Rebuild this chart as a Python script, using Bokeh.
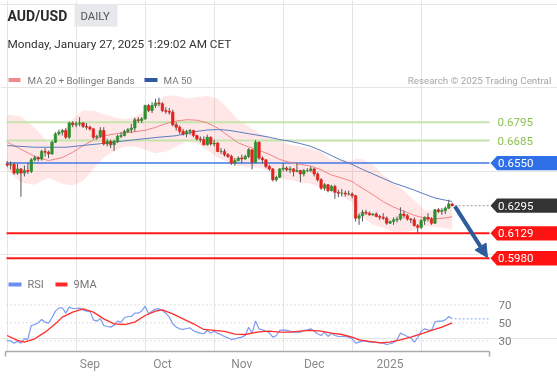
import pandas as pd
from bokeh.plotting import figure
from bokeh.models import Range1d, LinearAxis, FixedTicker, Arrow, NormalHead, ColumnDataSource
from bokeh.core.properties import value
from bokeh.embed import file_html
from bokeh.resources import INLINE

# ---------------- data ----------------
dates = pd.bdate_range("2024-07-30", "2025-01-27")   # 130 daily candles

opens = [
    0.6545, 0.6538, 0.6542, 0.6490, 0.6515, 0.6490, 0.6505, 0.6500, 0.6570, 0.6582,
    0.6575, 0.6620, 0.6615, 0.6605, 0.6675, 0.6725, 0.6735, 0.6745, 0.6705, 0.6790,
    0.6780, 0.6785, 0.6790, 0.6770, 0.6765, 0.6755, 0.6705, 0.6710, 0.6745, 0.6665,
    0.6680, 0.6660, 0.6680, 0.6710, 0.6715, 0.6740, 0.6750, 0.6760, 0.6810, 0.6805,
    0.6815, 0.6895, 0.6865, 0.6895, 0.6910, 0.6905, 0.6865, 0.6860, 0.6855, 0.6780,
    0.6765, 0.6740, 0.6725, 0.6740, 0.6745, 0.6715, 0.6695, 0.6690, 0.6660, 0.6705,
    0.6665, 0.6670, 0.6620, 0.6620, 0.6600, 0.6590, 0.6550, 0.6565, 0.6580, 0.6575,
    0.6590, 0.6630, 0.6555, 0.6675, 0.6580, 0.6570, 0.6530, 0.6515, 0.6450, 0.6465,
    0.6515, 0.6520, 0.6510, 0.6515, 0.6500, 0.6505, 0.6485, 0.6505, 0.6505, 0.6515,
    0.6485, 0.6450, 0.6400, 0.6420, 0.6385, 0.6410, 0.6375, 0.6370, 0.6370, 0.6365,
    0.6365, 0.6355, 0.6220, 0.6235, 0.6255, 0.6250, 0.6240, 0.6245, 0.6230, 0.6225,
    0.6220, 0.6190, 0.6200, 0.6210, 0.6215, 0.6245, 0.6235, 0.6215, 0.6210, 0.6175,
    0.6165, 0.6205, 0.6225, 0.6215, 0.6190, 0.6270, 0.6260, 0.6265, 0.6280, 0.6305,
]
closes = [
    0.6538, 0.6542, 0.6490, 0.6515, 0.6490, 0.6505, 0.6500, 0.6570, 0.6582, 0.6575,
    0.6620, 0.6615, 0.6605, 0.6675, 0.6725, 0.6735, 0.6745, 0.6705, 0.6790, 0.6780,
    0.6785, 0.6790, 0.6770, 0.6765, 0.6755, 0.6705, 0.6710, 0.6745, 0.6665, 0.6680,
    0.6660, 0.6680, 0.6710, 0.6715, 0.6740, 0.6750, 0.6760, 0.6810, 0.6805, 0.6815,
    0.6895, 0.6865, 0.6895, 0.6910, 0.6905, 0.6865, 0.6860, 0.6855, 0.6780, 0.6765,
    0.6740, 0.6725, 0.6740, 0.6745, 0.6715, 0.6695, 0.6690, 0.6660, 0.6705, 0.6665,
    0.6670, 0.6620, 0.6620, 0.6600, 0.6590, 0.6550, 0.6565, 0.6580, 0.6575, 0.6590,
    0.6630, 0.6555, 0.6675, 0.6580, 0.6570, 0.6530, 0.6515, 0.6450, 0.6465, 0.6515,
    0.6520, 0.6510, 0.6515, 0.6500, 0.6505, 0.6485, 0.6505, 0.6505, 0.6515, 0.6485,
    0.6450, 0.6400, 0.6420, 0.6385, 0.6410, 0.6375, 0.6370, 0.6370, 0.6365, 0.6365,
    0.6355, 0.6220, 0.6235, 0.6255, 0.6250, 0.6240, 0.6245, 0.6230, 0.6225, 0.6220,
    0.6190, 0.6200, 0.6210, 0.6215, 0.6245, 0.6235, 0.6215, 0.6210, 0.6175, 0.6165,
    0.6205, 0.6225, 0.6215, 0.6190, 0.6270, 0.6260, 0.6265, 0.6280, 0.6305, 0.6295,
]
highs = [
    0.6563, 0.6560, 0.6555, 0.6545, 0.6520, 0.6535, 0.6550, 0.6580, 0.6595, 0.6590,
    0.6630, 0.6640, 0.6625, 0.6685, 0.6735, 0.6750, 0.6755, 0.6760, 0.6798, 0.6800,
    0.6800, 0.6825, 0.6795, 0.6790, 0.6775, 0.6760, 0.6720, 0.6765, 0.6765, 0.6695,
    0.6690, 0.6690, 0.6720, 0.6735, 0.6750, 0.6760, 0.6785, 0.6822, 0.6825, 0.6825,
    0.6900, 0.6905, 0.6915, 0.6935, 0.6942, 0.6915, 0.6885, 0.6880, 0.6870, 0.6795,
    0.6775, 0.6755, 0.6750, 0.6755, 0.6750, 0.6720, 0.6710, 0.6710, 0.6720, 0.6710,
    0.6690, 0.6675, 0.6640, 0.6635, 0.6610, 0.6600, 0.6580, 0.6590, 0.6600, 0.6600,
    0.6640, 0.6630, 0.6688, 0.6680, 0.6590, 0.6570, 0.6540, 0.6520, 0.6475, 0.6520,
    0.6550, 0.6530, 0.6530, 0.6520, 0.6550, 0.6510, 0.6515, 0.6520, 0.6530, 0.6520,
    0.6495, 0.6460, 0.6430, 0.6425, 0.6420, 0.6420, 0.6390, 0.6395, 0.6385, 0.6385,
    0.6375, 0.6360, 0.6250, 0.6270, 0.6270, 0.6260, 0.6250, 0.6255, 0.6240, 0.6250,
    0.6230, 0.6205, 0.6225, 0.6230, 0.6285, 0.6265, 0.6245, 0.6220, 0.6225, 0.6185,
    0.6215, 0.6230, 0.6250, 0.6225, 0.6275, 0.6280, 0.6280, 0.6290, 0.6330, 0.6312,
]
lows = [
    0.6526, 0.6512, 0.6480, 0.6480, 0.6348, 0.6470, 0.6485, 0.6490, 0.6560, 0.6560,
    0.6565, 0.6590, 0.6580, 0.6600, 0.6670, 0.6715, 0.6715, 0.6695, 0.6695, 0.6765,
    0.6765, 0.6770, 0.6760, 0.6750, 0.6745, 0.6695, 0.6690, 0.6700, 0.6655, 0.6650,
    0.6640, 0.6622, 0.6670, 0.6700, 0.6710, 0.6730, 0.6730, 0.6740, 0.6790, 0.6790,
    0.6810, 0.6855, 0.6850, 0.6880, 0.6890, 0.6855, 0.6845, 0.6840, 0.6770, 0.6745,
    0.6725, 0.6715, 0.6705, 0.6720, 0.6705, 0.6685, 0.6675, 0.6655, 0.6655, 0.6655,
    0.6650, 0.6615, 0.6605, 0.6590, 0.6580, 0.6540, 0.6535, 0.6560, 0.6550, 0.6570,
    0.6580, 0.6512, 0.6550, 0.6570, 0.6550, 0.6520, 0.6505, 0.6440, 0.6440, 0.6460,
    0.6500, 0.6500, 0.6490, 0.6470, 0.6495, 0.6435, 0.6470, 0.6495, 0.6495, 0.6470,
    0.6440, 0.6390, 0.6385, 0.6375, 0.6380, 0.6336, 0.6345, 0.6350, 0.6350, 0.6355,
    0.6340, 0.6200, 0.6180, 0.6200, 0.6240, 0.6235, 0.6235, 0.6225, 0.6210, 0.6210,
    0.6180, 0.6185, 0.6180, 0.6195, 0.6205, 0.6220, 0.6205, 0.6190, 0.6170, 0.6130,
    0.6155, 0.6180, 0.6200, 0.6180, 0.6185, 0.6250, 0.6240, 0.6245, 0.6275, 0.6290,
]

# MA 20 + Bollinger Bands, sampled along the candles
band_idx = [0, 4, 8, 12, 16, 19, 22, 25, 28, 31, 34, 37, 40, 43, 46, 49, 52, 55, 58, 61, 64, 67,
            70, 73, 76, 79, 82, 85, 88, 91, 94, 97, 100, 101, 103, 106, 109, 112, 115, 118, 121,
            124, 127, 129]
ma20 = [0.6676, 0.6633, 0.6590, 0.6565, 0.6583, 0.6615, 0.6654, 0.6690, 0.6713, 0.6724, 0.6732,
        0.6738, 0.6746, 0.6764, 0.6787, 0.6802, 0.6810, 0.6807, 0.6791, 0.6760, 0.6715, 0.6671,
        0.6647, 0.6627, 0.6602, 0.6572, 0.6554, 0.6542, 0.6532, 0.6510, 0.6479, 0.6460, 0.6440,
        0.6425, 0.6399, 0.6361, 0.6319, 0.6286, 0.6262, 0.6237, 0.6220, 0.6216, 0.6221, 0.6229]
bb_upper = [0.6839, 0.6831, 0.6761, 0.6671, 0.6741, 0.6813, 0.6865, 0.6865, 0.6843, 0.6824, 0.6813,
            0.6826, 0.6861, 0.6918, 0.6955, 0.6954, 0.6939, 0.6944, 0.6953, 0.6937, 0.6875, 0.6808,
            0.6768, 0.6731, 0.6704, 0.6686, 0.6658, 0.6649, 0.6638, 0.6619, 0.6567, 0.6571, 0.6562,
            0.6576, 0.6573, 0.6542, 0.6477, 0.6435, 0.6385, 0.6328, 0.6267, 0.6265, 0.6281, 0.6306]
bb_lower = [0.6513, 0.6434, 0.6420, 0.6460, 0.6425, 0.6417, 0.6443, 0.6514, 0.6583, 0.6623, 0.6650,
            0.6650, 0.6632, 0.6609, 0.6618, 0.6650, 0.6680, 0.6671, 0.6629, 0.6584, 0.6555, 0.6534,
            0.6525, 0.6522, 0.6501, 0.6458, 0.6450, 0.6434, 0.6426, 0.6401, 0.6392, 0.6350, 0.6317,
            0.6274, 0.6225, 0.6180, 0.6162, 0.6137, 0.6139, 0.6146, 0.6172, 0.6167, 0.6160, 0.6151]

ma50_idx = [0, 8, 17, 27, 37, 44, 49, 52, 55, 58, 61, 64, 67, 70, 73, 76, 79, 82, 85, 88, 91, 94,
            97, 100, 103, 106, 109, 112, 115, 118, 121, 124, 127, 129]
ma50 = [0.6655, 0.6645, 0.6645, 0.6666, 0.6690, 0.6705, 0.6714, 0.6727, 0.6740, 0.6748, 0.6751,
        0.6747, 0.6737, 0.6726, 0.6716, 0.6705, 0.6691, 0.6681, 0.6667, 0.6650, 0.6625, 0.6595,
        0.6566, 0.6542, 0.6512, 0.6485, 0.6458, 0.6431, 0.6410, 0.6388, 0.6364, 0.6341, 0.6328,
        0.6320]

rsi = [
    30.4, 30.0, 27.4, 29.3, 27.4, 32.2, 31.9, 47.0, 48.0, 50.0,
    53.7, 50.7, 49.6, 55.6, 63.0, 66.3, 66.7, 60.7, 67.4, 65.9,
    65.9, 66.3, 64.4, 63.0, 63.0, 53.3, 51.9, 54.4, 47.0, 45.9,
    45.2, 47.4, 51.9, 50.7, 55.6, 57.0, 57.0, 60.7, 60.7, 63.0,
    68.5, 60.0, 63.0, 65.2, 65.5, 63.7, 60.7, 56.3, 48.9, 45.2,
    43.3, 42.6, 43.7, 44.4, 41.1, 39.6, 38.5, 37.8, 41.5, 38.5,
    40.7, 38.5, 36.7, 34.8, 33.3, 31.5, 32.2, 33.3, 34.1, 36.0,
    45.0, 38.5, 52.0, 43.3, 42.2, 40.7, 38.9, 34.1, 35.6, 41.5,
    42.2, 41.5, 40.7, 39.6, 39.6, 39.6, 41.5, 42.2, 43.3, 40.7,
    37.8, 35.9, 39.6, 34.8, 38.5, 35.9, 34.8, 34.8, 34.8, 34.1,
    32.2, 27.4, 28.5, 29.6, 29.6, 28.5, 28.5, 28.5, 27.8, 27.4,
    25.9, 26.7, 27.8, 31.1, 38.5, 36.7, 34.8, 33.3, 28.5, 33.3,
    40.7, 43.3, 42.2, 41.5, 50.7, 51.9, 51.9, 53.3, 57.0, 54.4,
]
ma9_idx = [0, 3, 5, 8, 11, 14, 16, 19, 22, 25, 28, 31, 34, 37, 40, 43, 45, 48, 51, 54, 57, 60, 63,
           66, 69, 71, 73, 76, 79, 82, 85, 88, 91, 94, 97, 100, 102, 105, 108, 111, 114, 117, 120,
           123, 126, 129]
ma9 = [35.9, 30.4, 28.5, 32.2, 39.6, 48.9, 56.3, 61.9, 65.6, 61.9, 54.4, 48.9, 48.1, 50.7, 58.1,
       63.0, 64.4, 60.0, 54.4, 48.9, 42.6, 41.5, 40.4, 37.5, 37.0, 38.5, 40.0, 40.7, 39.6, 39.6,
       40.7, 41.5, 40.7, 38.5, 37.0, 34.1, 31.1, 29.3, 27.8, 28.5, 31.1, 34.1, 37.8, 41.5, 45.2,
       50.0]

month_labels = ["Sep", "Oct", "Nov", "Dec", "2025"]
resistances = [0.6795, 0.6685]
pivot = 0.6550
last_price = 0.6295
supports = [0.6129, 0.5980]
rsi_levels = [70, 50, 30]

# ---------------- geometry helpers (pixel -> data) ----------------
W, H = 557, 378
FRAME_BOTTOM = 351
X0, DX = 6.65, 3.45
def xi(px):
    return (px - X0) / DX
P_REF_Y, P_REF, P_SCALE = 121.7, 0.6795, 1669.0
def pp(py):
    return P_REF - (py - P_REF_Y) / P_SCALE
def ypx(v):
    return P_REF_Y + (P_REF - v) * P_SCALE
def rr(py):
    return 50 - (py - 322.3) / 0.9

FONT = "Roboto"

p = figure(width=W, height=H, output_backend="svg", toolbar_location=None, tools="",
           x_range=Range1d(xi(0), xi(W)), y_range=Range1d(pp(FRAME_BOTTOM), pp(0)),
           x_axis_location=None, y_axis_location=None,
           min_border_left=0, min_border_right=0, min_border_top=0,
           min_border_bottom=H - FRAME_BOTTOM)
p.extra_y_ranges = {"rsi": Range1d(rr(FRAME_BOTTOM), rr(0))}
p.outline_line_color = None
p.background_fill_color = "white"
p.border_fill_color = "white"
p.styles = {"position": "fixed", "left": "0px", "top": "0px"}


def txt(x, y, s, size, color, align="left", style="normal", rng="default"):
    p.text(x=[x], y=[y], text=[s], text_font=value(FONT), text_font_size=size,
           text_color=color, text_align=align, text_baseline="middle",
           text_font_style=style, y_range_name=rng)


# ---------------- header ----------------
txt(xi(7), pp(15.5), "AUD/USD", "14px", "#2b2b2b", style="bold")
p.quad(left=[xi(74)], right=[xi(117)], top=[pp(4)], bottom=[pp(26)],
       fill_color="#e7e8ec", line_color=None)
txt(xi(80), pp(15.5), "DAILY", "11.3px", "#555555")
txt(xi(7), pp(43.5), "Monday, January 27, 2025 1:29:02 AM CET", "11.8px", "#333333")

# legend row
p.quad(left=[xi(8)], right=[xi(20)], top=[pp(77.5)], bottom=[pp(81.5)],
       fill_color="#f28c8c", line_color=None)
txt(xi(27), pp(79.5), "MA 20 + Bollinger Bands", "9.8px", "#777777")
p.quad(left=[xi(144)], right=[xi(157)], top=[pp(77.5)], bottom=[pp(81.5)],
       fill_color="#2f5a9e", line_color=None)
txt(xi(163), pp(79.5), "MA 50", "9.8px", "#777777")
txt(xi(551), pp(79.5), "Research \u00a9 2025 Trading Central", "9.8px", "#a6a6a6", align="right")

# ---------------- bands & levels ----------------
p.varea(x=band_idx, y1=bb_lower, y2=bb_upper, fill_color="#ff2020", fill_alpha=0.11)

LX0, LX1 = xi(6), xi(489)
p.segment(x0=[LX0] * 2, y0=resistances, x1=[LX1] * 2, y1=resistances,
          line_color="#c6e4ac", line_width=2)
p.segment(x0=[LX0], y0=[pivot], x1=[LX1], y1=[pivot], line_color="#4378e6", line_width=1.5)
p.segment(x0=[LX0] * 2, y0=supports, x1=[LX1] * 2, y1=supports,
          line_color="#ff1a1a", line_width=2)
p.segment(x0=[len(closes) - 0.3], y0=[last_price], x1=[LX1], y1=[last_price],
          line_color="#999999", line_width=1, line_dash="2 2")

p.line(band_idx, ma20, line_color="#f08484", line_width=1)
p.line(ma50_idx, ma50, line_color="#5a7cc0", line_width=1)

# ---------------- candles ----------------
n = len(closes)
src = ColumnDataSource(dict(
    x=list(range(n)), h=highs, l=lows,
    top=[max(o, c) for o, c in zip(opens, closes)],
    bottom=[min(o, c) for o, c in zip(opens, closes)],
    color=["#2e8f2e" if c >= o else "#e3221c" for o, c in zip(opens, closes)],
))
p.segment(x0="x", y0="h", x1="x", y1="l", source=src, line_color="#555555", line_width=1)
p.vbar(x="x", width=0.7, top="top", bottom="bottom", fill_color="color",
       line_color="color", line_width=0.7, source=src)

# ---------------- right side labels ----------------
for v in resistances:
    txt(xi(497), v, f"{v:.4f}", "11.5px", "#8cc152")


def tag(v, fill):
    yc = ypx(v)
    xs = [xi(490), xi(496.5), xi(557), xi(557), xi(496.5)]
    ys = [v, pp(yc - 7.2), pp(yc - 7.2), pp(yc + 7.2), pp(yc + 7.2)]
    p.patch(xs, ys, fill_color=fill, line_color=None)
    txt(xi(497.5), v, f"{v:.4f}", "11.5px", "white")


tag(pivot, "#2f6fe8")
tag(last_price, "#333333")
for v in supports:
    tag(v, "#ff1212")

AC = "#2d5b9c"
p.add_layout(Arrow(end=NormalHead(size=13, fill_color=AC, line_color=AC),
                   x_start=n - 0.2, y_start=last_price - 0.0004,
                   x_end=xi(487), y_end=supports[1] + 0.0004,
                   line_color=AC, line_width=4))

# ---------------- RSI panel ----------------
p.quad(left=[xi(8)], right=[xi(21)], top=[pp(282)], bottom=[pp(286)],
       fill_color="#6b8ff0", line_color=None)
txt(xi(27), pp(284), "RSI", "11px", "#777777")
p.quad(left=[xi(55)], right=[xi(67)], top=[pp(282)], bottom=[pp(286)],
       fill_color="#ff2b2b", line_color=None)
txt(xi(73), pp(284), "9MA", "11px", "#777777")

p.segment(x0=[LX0] * 3, y0=rsi_levels, x1=[LX1] * 3, y1=rsi_levels, y_range_name="rsi",
          line_color="#c4c4c4", line_width=1, line_dash="1 3")
for lv in rsi_levels:
    txt(xi(498), lv, str(lv), "11.5px", "#777777", rng="rsi")

p.line(list(range(n)), rsi, y_range_name="rsi", line_color="#7c9cf0", line_width=1.2)
p.line(ma9_idx, ma9, y_range_name="rsi", line_color="#ff2d2d", line_width=1.3)
p.segment(x0=[n - 0.3], y0=[rsi[-1]], x1=[LX1], y1=[rsi[-1]], y_range_name="rsi",
          line_color="#9fb6f2", line_width=1.2, line_dash="2 2")

# ---------------- time axis ----------------
month_idx = [i for i in range(1, n) if dates[i].month != dates[i - 1].month][1:]
ax = LinearAxis(ticker=FixedTicker(ticks=month_idx, minor_ticks=[xi(5), xi(489)]),
                bounds=(xi(4.6), xi(489.4)))
ax.major_label_overrides = {i: s for i, s in zip(month_idx, month_labels)}
ax.axis_line_color = "#aaaaaa"
ax.axis_line_width = 1.5
ax.major_tick_line_color = None
ax.major_tick_out = 0
ax.major_tick_in = 0
ax.minor_tick_line_color = "#aaaaaa"
ax.minor_tick_line_width = 1.5
ax.minor_tick_out = 5
ax.minor_tick_in = 0
ax.major_label_text_color = "#8a8a8a"
ax.major_label_text_font = FONT
ax.major_label_text_font_size = "12px"
ax.major_label_standoff = 0
p.add_layout(ax, "below")

open("out.html", "w").write(file_html(p, INLINE))
